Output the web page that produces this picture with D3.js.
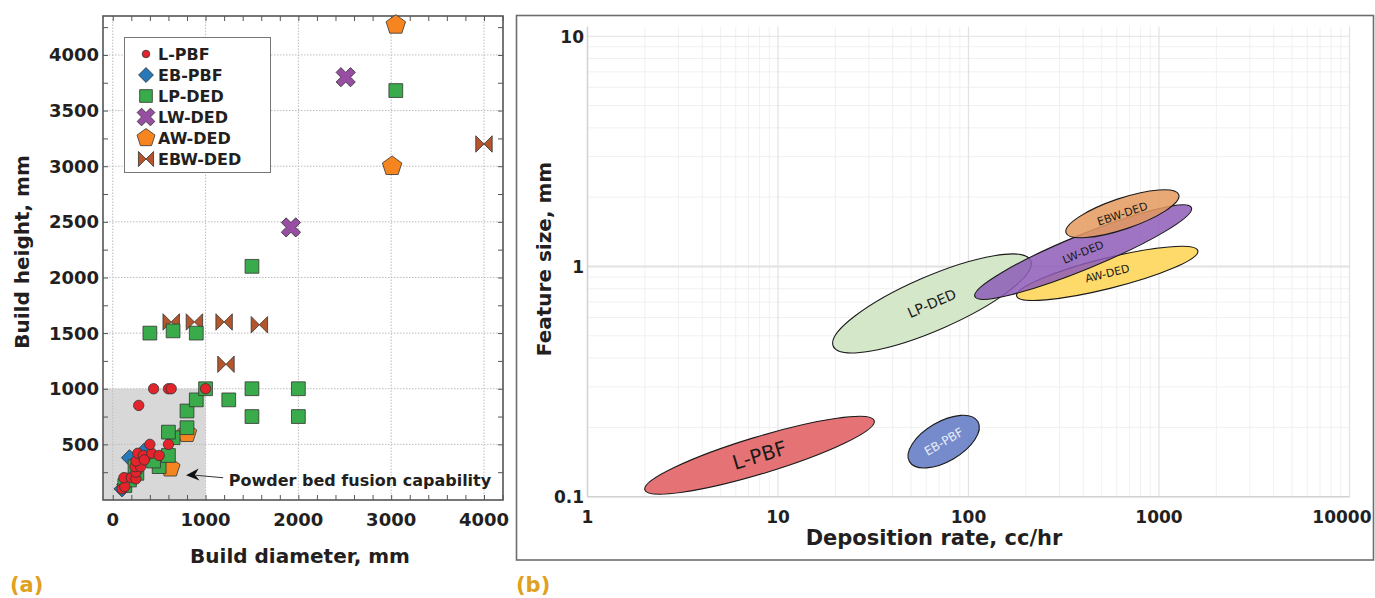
<!DOCTYPE html>
<html>
<head>
<script src="https://d3js.org/d3.v7.min.js"></script>
<style>
body { margin: 0; background: #fff; }
svg text { font-family: "DejaVu Sans", sans-serif; }
</style>
</head>
<body>
<script>
// (a) build envelope: [build diameter mm, build height mm]
var lpbf = [[100,100],[130,120],[120,200],[200,200],[250,190],[250,250],[240,300],[300,300],
            [250,350],[350,380],[270,420],[330,400],[340,360],[420,420],[500,400],[400,500],
            [600,500],[280,850],[440,1000],[600,1000],[630,1000],[1000,1000]];
var ebpbf = [[100,100],[130,140],[180,170],[180,380],[340,440]];
var lpded = [[130,130],[180,180],[260,240],[240,300],[500,300],[440,350],[600,400],[650,560],
             [600,610],[800,650],[800,800],[900,900],[1000,1000],[1250,900],[1500,1000],[1500,750],
             [2000,1000],[2000,750],[400,1500],[650,1520],[900,1500],[1500,2100],[3050,3680]];
var lwded = [[1920,2450],[2510,3800]];
var awded = [[620,290],[800,600],[3010,3000],[3050,4270]];
var ebwded = [[630,1600],[880,1600],[1200,1600],[1580,1575],[1220,1220],[4000,3200]];

var xTicksA = [0,1000,2000,3000,4000];
var yTicksA = [500,1000,1500,2000,2500,3000,3500,4000];
var pbfLimit = 1000;

// (b) process windows: deposition rate (cc/hr) vs feature size (mm)
var processes = ["L-PBF","EB-PBF","LP-DED","LW-DED","AW-DED","EBW-DED"];
var rateLo = [2.0, 49, 19.5, 108, 179, 325];
var sizeLo = [0.107, 0.142, 0.45, 0.74, 0.744, 1.40];
var rateHi = [32, 112, 212, 1480, 1600, 1270];
var sizeHi = [0.214, 0.212, 1.06, 1.80, 1.17, 2.05];
var spread = [0.08, 0.086, 0.117, 0.074, 0.066, 0.067]; // half thickness, decades
var rateTicks = [1,10,100,1000,10000];
var sizeTicks = [0.1,1,10];

var svg = d3.select("body").append("svg")
    .attr("width", 1375)
    .attr("height", 598);

// ---------- panel (a) ----------
var x = d3.scaleLinear().domain([-105, 4205]).range([103, 503]);
var y = d3.scaleLinear().domain([0, 4350]).range([500, 16]);

var a = svg.append("g");

a.append("rect")
    .attr("x", x(-105)).attr("y", y(pbfLimit))
    .attr("width", x(pbfLimit) - x(-105)).attr("height", y(0) - y(pbfLimit))
    .attr("fill", "#d8d8d8");

a.append("g").selectAll("line").data(xTicksA).join("line")
    .attr("x1", d => x(d)).attr("x2", d => x(d))
    .attr("y1", y(0)).attr("y2", y(4350))
    .attr("stroke", "#bdbdbd").attr("stroke-dasharray", "1.5,1.5");
a.append("g").selectAll("line").data(yTicksA).join("line")
    .attr("x1", x(-105)).attr("x2", x(4205))
    .attr("y1", d => y(d)).attr("y2", d => y(d))
    .attr("stroke", "#bdbdbd").attr("stroke-dasharray", "1.5,1.5");

// inward ticks on all sides
var xMinor = d3.range(0, 4201, 200), yMinor = d3.range(250, 4350, 250);
a.append("g").call(d3.axisBottom(x).tickValues(xMinor).tickSize(-5).tickFormat(""))
    .attr("transform", "translate(0," + y(0) + ")");
a.append("g").call(d3.axisTop(x).tickValues(xMinor).tickSize(-5).tickFormat(""))
    .attr("transform", "translate(0," + y(4350) + ")");
a.append("g").call(d3.axisLeft(y).tickValues(yMinor).tickSize(-5).tickFormat(""))
    .attr("transform", "translate(" + x(-105) + ",0)");
a.append("g").call(d3.axisRight(y).tickValues(yMinor).tickSize(-5).tickFormat(""))
    .attr("transform", "translate(" + x(4205) + ",0)");
a.selectAll(".domain").remove();
a.selectAll(".tick line").attr("stroke", "#555");

a.append("rect")
    .attr("x", x(-105)).attr("y", y(4350))
    .attr("width", x(4205) - x(-105)).attr("height", y(0) - y(4350))
    .attr("fill", "none").attr("stroke", "#555").attr("stroke-width", 1.6);

a.append("g").selectAll("text").data(xTicksA).join("text")
    .attr("x", d => x(d)).attr("y", 526)
    .attr("text-anchor", "middle").attr("font-size", 18).attr("font-weight", "bold")
    .attr("fill", "#231f20").text(d => d);
a.append("g").selectAll("text").data(yTicksA).join("text")
    .attr("x", 99).attr("y", d => y(d) + 6.5)
    .attr("text-anchor", "end").attr("font-size", 18).attr("font-weight", "bold")
    .attr("fill", "#231f20").text(d => d);

a.append("text").attr("x", 300).attr("y", 563)
    .attr("text-anchor", "middle").attr("font-size", 20).attr("font-weight", "bold")
    .attr("fill", "#231f20").text("Build diameter, mm");
a.append("text").attr("transform", "translate(29,252) rotate(-90)")
    .attr("text-anchor", "middle").attr("font-size", 20).attr("font-weight", "bold")
    .attr("fill", "#231f20").text("Build height, mm");

// marker shapes
var pentagon = {draw: function(ctx, size) {
  var r = Math.sqrt(size / 2.378);
  for (var i = 0; i < 5; i++) {
    var t = -Math.PI / 2 + i * 2 * Math.PI / 5;
    if (i === 0) ctx.moveTo(r * Math.cos(t), r * Math.sin(t));
    else ctx.lineTo(r * Math.cos(t), r * Math.sin(t));
  }
  ctx.closePath();
}};
var bowtie = {draw: function(ctx, size) {
  var r = Math.sqrt(size) / 2;
  ctx.moveTo(-r, -r); ctx.lineTo(0, 0); ctx.lineTo(-r, r); ctx.closePath();
  ctx.moveTo(r, -r); ctx.lineTo(0, 0); ctx.lineTo(r, r); ctx.closePath();
}};

var series = [
  {name: "EBW-DED", data: ebwded, type: bowtie, size: 270, rot: 0, fill: "#b4552b"},
  {name: "LW-DED", data: lwded, type: d3.symbolCross, size: 230, rot: 45, fill: "#984ea3"},
  {name: "AW-DED", data: awded, type: pentagon, size: 250, rot: 0, fill: "#f7851f"},
  {name: "EB-PBF", data: ebpbf, type: d3.symbolSquare, size: 130, rot: 45, fill: "#2778b8"},
  {name: "LP-DED", data: lpded, type: d3.symbolSquare, size: 190, rot: 0, fill: "#3aab4a"},
  {name: "L-PBF", data: lpbf, type: d3.symbolCircle, size: 85, rot: 0, fill: "#e3242b"}
];

series.forEach(function(s) {
  a.append("g").selectAll("path").data(s.data).join("path")
      .attr("d", d3.symbol().type(s.type).size(s.size))
      .attr("transform", d => "translate(" + x(d[0]) + "," + y(d[1]) + ") rotate(" + s.rot + ")")
      .attr("fill", s.fill).attr("stroke", "#333").attr("stroke-width", 0.8);
});

// annotation
var tip = [790, 222], tail = [1190, 200];
a.append("line")
    .attr("x1", x(tail[0])).attr("y1", y(tail[1]))
    .attr("x2", x(tip[0]) + 10).attr("y2", y(tip[1]))
    .attr("stroke", "#333").attr("stroke-width", 1);
a.append("path")
    .attr("d", "M0,0 L13,-6 L9,0 L13,6 Z")
    .attr("transform", "translate(" + x(tip[0]) + "," + y(tip[1]) + ") rotate(-4)")
    .attr("fill", "#111");
a.append("text").attr("x", x(1250)).attr("y", y(130))
    .attr("font-size", 16).attr("font-weight", "bold").attr("fill", "#231f20")
    .text("Powder bed fusion capability");

// legend
var legendOrder = ["L-PBF","EB-PBF","LP-DED","LW-DED","AW-DED","EBW-DED"];
var lg = a.append("g");
lg.append("rect").attr("x", 124.5).attr("y", 37.5).attr("width", 146).attr("height", 135)
    .attr("fill", "#fff").attr("stroke", "#777").attr("stroke-width", 1);
legendOrder.forEach(function(n, i) {
  var s = series.find(d => d.name === n);
  var ly = 54 + i * 21;
  lg.append("path")
      .attr("d", d3.symbol().type(s.type).size(n === "L-PBF" ? 45 : s.size * 0.85))
      .attr("transform", "translate(146," + ly + ") rotate(" + s.rot + ")")
      .attr("fill", s.fill).attr("stroke", "#333").attr("stroke-width", 0.8);
  lg.append("text").attr("x", 158).attr("y", ly + 6)
      .attr("font-size", 16).attr("font-weight", "bold").attr("fill", "#231f20").text(n);
});

svg.append("text").attr("x", 10).attr("y", 592)
    .attr("font-size", 21).attr("font-weight", "bold").attr("fill", "#e0a020").text("(a)");

// ---------- panel (b) ----------
var xb = d3.scaleLog().domain([1, 10000]).range([587.5, 1349.5]);
var yb = d3.scaleLog().domain([0.1, 11]).range([496.7, 26.7]);
var b = svg.append("g");

b.append("rect").attr("x", 516.5).attr("y", 15.5).attr("width", 857).attr("height", 544.5)
    .attr("fill", "none").attr("stroke", "#6d6d6d").attr("stroke-width", 1.6);

var rateMinor = [], sizeMinor = [];
[1,10,100,1000].forEach(function(d) { for (var k = 2; k < 10; k++) rateMinor.push(d * k); });
[0.1,1].forEach(function(d) { for (var k = 2; k < 10; k++) sizeMinor.push(d * k); });

b.append("g").selectAll("line").data(rateMinor).join("line")
    .attr("x1", d => xb(d)).attr("x2", d => xb(d))
    .attr("y1", yb(0.1)).attr("y2", yb(11))
    .attr("stroke", "#f1f1f1").attr("stroke-width", 1);
b.append("g").selectAll("line").data(sizeMinor).join("line")
    .attr("x1", xb(1)).attr("x2", xb(10000))
    .attr("y1", d => yb(d)).attr("y2", d => yb(d))
    .attr("stroke", "#f1f1f1").attr("stroke-width", 1);
b.append("g").selectAll("line").data(rateTicks).join("line")
    .attr("x1", d => xb(d)).attr("x2", d => xb(d))
    .attr("y1", yb(0.1)).attr("y2", yb(11))
    .attr("stroke", "#e2e2e2").attr("stroke-width", 1.2);
b.append("g").selectAll("line").data(sizeTicks).join("line")
    .attr("x1", xb(1)).attr("x2", xb(10000))
    .attr("y1", d => yb(d)).attr("y2", d => yb(d))
    .attr("stroke", "#e2e2e2").attr("stroke-width", d => d === 1 ? 2 : 1.2);
b.append("line").attr("x1", xb(1)).attr("x2", xb(1)).attr("y1", yb(0.1)).attr("y2", yb(11))
    .attr("stroke", "#d2d2d2").attr("stroke-width", 1.4);
b.append("line").attr("x1", xb(1)).attr("x2", xb(10000)).attr("y1", yb(0.1)).attr("y2", yb(0.1))
    .attr("stroke", "#d2d2d2").attr("stroke-width", 1.4);

b.append("g").selectAll("text").data(rateTicks).join("text")
    .attr("x", d => d === 10000 ? xb(d) + 22 : xb(d)).attr("y", 523)
    .attr("text-anchor", d => d === 10000 ? "end" : "middle")
    .attr("font-size", 17).attr("font-weight", "bold")
    .attr("fill", "#231f20").text(d => d);
b.append("g").selectAll("text").data(sizeTicks).join("text")
    .attr("x", 584).attr("y", d => yb(d) + 6.5)
    .attr("text-anchor", "end").attr("font-size", 17).attr("font-weight", "bold")
    .attr("fill", "#231f20").text(d => d);

b.append("text").attr("x", 934).attr("y", 545)
    .attr("text-anchor", "middle").attr("font-size", 21).attr("font-weight", "bold")
    .attr("fill", "#231f20").text("Deposition rate, cc/hr");
b.append("text").attr("transform", "translate(551,259) rotate(-90)")
    .attr("text-anchor", "middle").attr("font-size", 20).attr("font-weight", "bold")
    .attr("fill", "#231f20").text("Feature size, mm");

var fills = ["#e46b6e", "#6f85c8", "#d2e7c6", "#8d5cb8", "#fdd861", "#e49a5e"];
var labelColor = ["#1a1a1a", "#e8ecf8", "#1a1a1a", "#1a1a1a", "#1a1a1a", "#1a1a1a"];
var labelSize = [20, 12, 14, 11, 11, 11];
var drawOrder = [0, 1, 2, 4, 3, 5];
var perDecade = yb(1) - yb(10);

var zones = drawOrder.map(function(i) {
  var x1 = xb(rateLo[i]), y1 = yb(sizeLo[i]), x2 = xb(rateHi[i]), y2 = yb(sizeHi[i]);
  return {
    i: i,
    cx: (x1 + x2) / 2, cy: (y1 + y2) / 2,
    rx: Math.hypot(x2 - x1, y2 - y1) / 2,
    ry: spread[i] * perDecade,
    ang: Math.atan2(y2 - y1, x2 - x1) * 180 / Math.PI
  };
});

b.append("g").selectAll("ellipse").data(zones).join("ellipse")
    .attr("rx", d => d.rx).attr("ry", d => d.ry)
    .attr("transform", d => "translate(" + d.cx + "," + d.cy + ") rotate(" + d.ang + ")")
    .attr("fill", d => fills[d.i]).attr("fill-opacity", d => d.i === 3 || d.i === 5 ? 0.85 : 0.95)
    .attr("stroke", "#1a1a1a").attr("stroke-width", 1.1);

b.append("g").selectAll("text").data(zones).join("text")
    .attr("transform", d => "translate(" + d.cx + "," + d.cy + ") rotate(" + d.ang + ")")
    .attr("text-anchor", "middle").attr("dy", "0.35em")
    .attr("font-family", "Liberation Sans, sans-serif")
    .attr("font-size", d => labelSize[d.i]).attr("fill", d => labelColor[d.i])
    .text(d => processes[d.i]);

svg.append("text").attr("x", 516).attr("y", 592)
    .attr("font-size", 21).attr("font-weight", "bold").attr("fill", "#e0a020").text("(b)");
</script>
</body>
</html>
